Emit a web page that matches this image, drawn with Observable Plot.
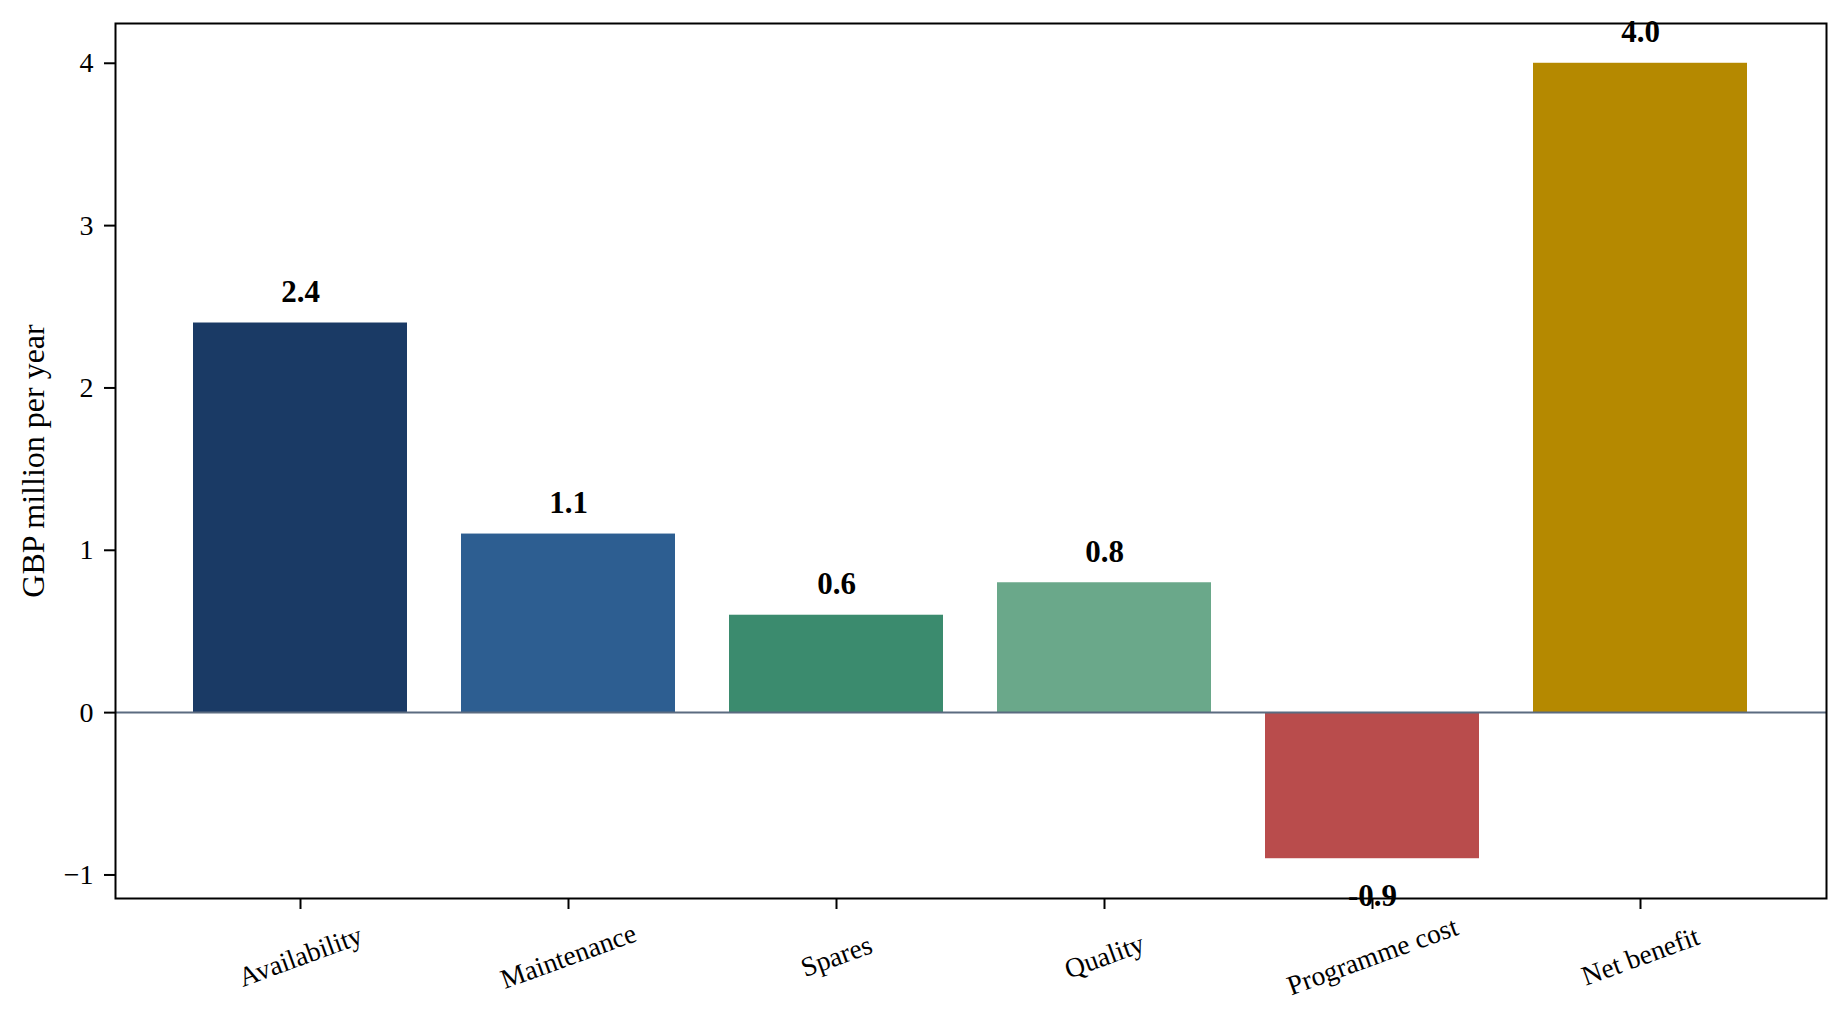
<!DOCTYPE html>
<html><head><meta charset="utf-8">
<script src="https://cdn.jsdelivr.net/npm/d3@7"></script>
<script src="https://cdn.jsdelivr.net/npm/@observablehq/plot@0.6"></script>
<style>body{margin:0;background:#fff}</style>
</head><body><div id="chart"></div>
<script>
const categories = ["Availability","Maintenance","Spares","Quality","Programme cost","Net benefit"];
const values = [2.4, 1.1, 0.6, 0.8, -0.9, 4.0];
const colors = ["#1a3a65","#2d5e91","#3b8b6e","#6aa88a","#b94c4c","#b58900"];
const yTicks = [-1, 0, 1, 2, 3, 4];
const yLabel = "GBP million per year";

const data = categories.map((c, i) => ({category: c, value: values[i]}));
const font = "'Liberation Serif', 'Times New Roman', serif";

const plot = Plot.plot({
  width: 1847, height: 1027,
  marginLeft: 115, marginRight: 21, marginTop: 23, marginBottom: 129,
  style: {fontFamily: font, background: "#fff", color: "#000"},
  x: {type: "band", domain: categories, paddingInner: 0.2, paddingOuter: 0.29, axis: null, label: null},
  y: {domain: [-1.145, 4.245], axis: null, label: null},
  color: {domain: categories, range: colors},
  marks: [
    Plot.barY(data, {x: "category", y: "value", fill: "category"}),
    Plot.ruleY([0], {stroke: "#5b6b80", strokeWidth: 2}),
    Plot.axisY({ticks: yTicks, tickSize: 11, tickPadding: 11, fontSize: 28, tickFormat: d3.format(""), strokeWidth: 2, label: null}),
    Plot.axisX({tickSize: 11, tickFormat: () => "", strokeWidth: 2, label: null}),
    Plot.text(data, {x: "category", frameAnchor: "bottom", text: "category", rotate: -20, dy: 58, fontSize: 27.5, lineAnchor: "middle", textAnchor: "middle"}),
    Plot.text(data.filter(d => d.value >= 0), {x: "category", y: "value", text: d => d.value.toFixed(1), dy: -21, lineAnchor: "bottom", textAnchor: "middle", fontWeight: "bold", fontSize: 31}),
    Plot.text(data.filter(d => d.value < 0), {x: "category", y: "value", text: d => d.value.toFixed(1), dy: 25, lineAnchor: "top", textAnchor: "middle", fontWeight: "bold", fontSize: 31}),
    Plot.text([yLabel], {frameAnchor: "left", text: d => d, rotate: -90, dx: -82, fontSize: 32, lineAnchor: "middle", textAnchor: "middle"}),
    Plot.frame({stroke: "#000", strokeWidth: 2})
  ]
});
document.getElementById("chart").appendChild(plot);
</script>
</body></html>
